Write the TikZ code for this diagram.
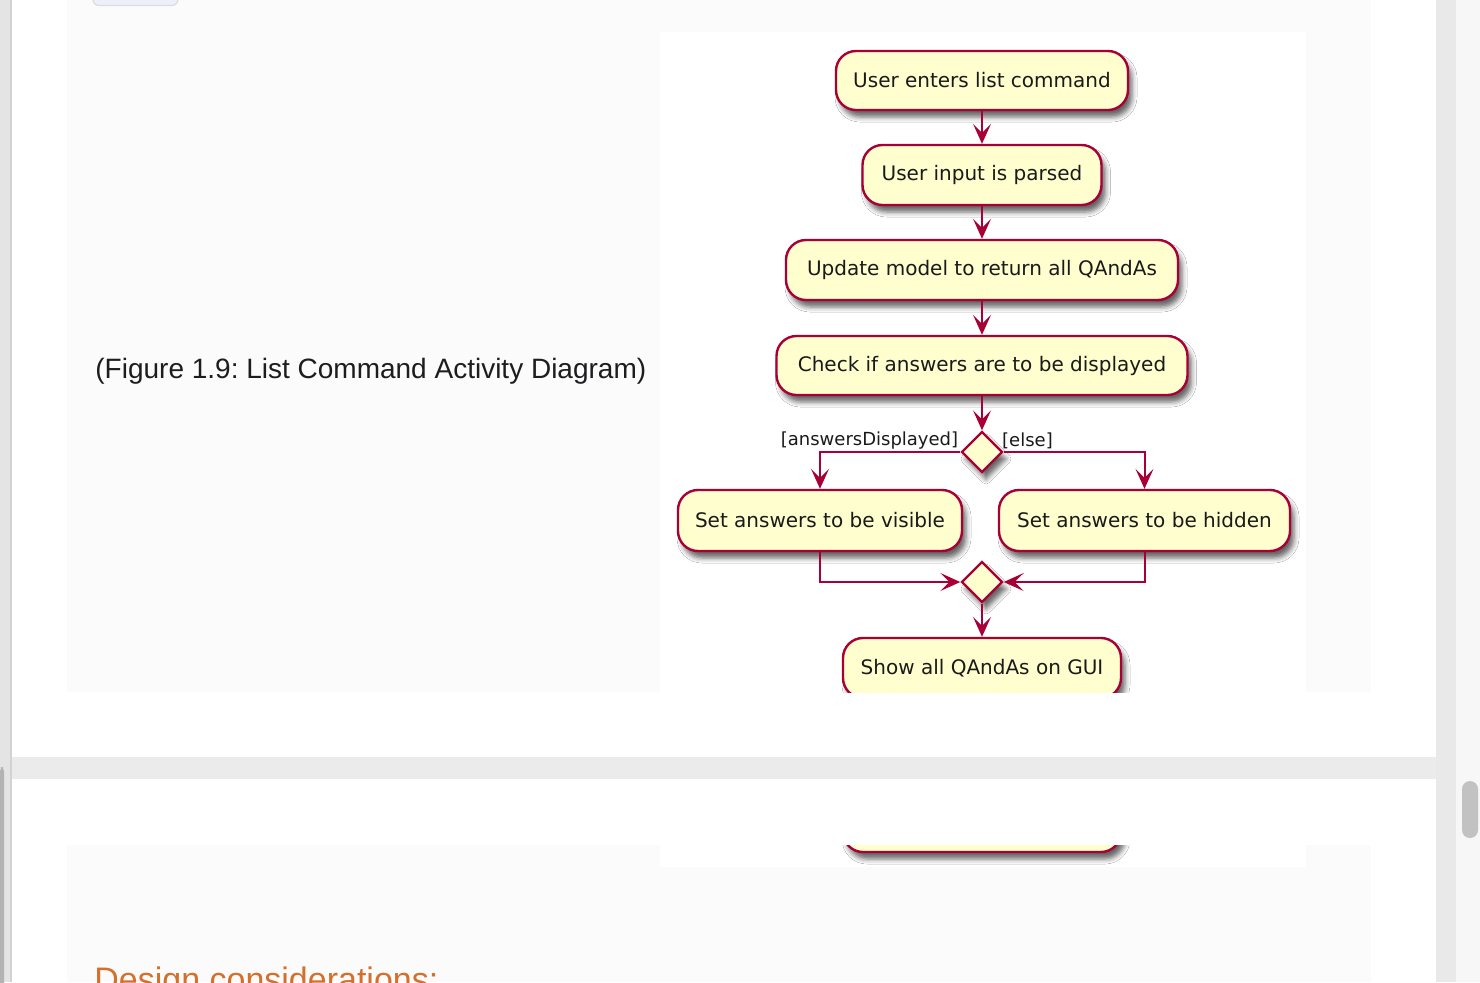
\documentclass[tikz,border=0pt]{standalone}
\usepackage{fontspec}
\setmainfont{Liberation Sans}
\newfontfamily\diagfont{DejaVu Sans}
\usetikzlibrary{shapes.geometric,arrows.meta,shadows.blur}
\frenchspacing

\definecolor{umlfill}{HTML}{FEFECE}
\definecolor{umlline}{HTML}{A80036}
\definecolor{umltext}{HTML}{1A1A1A}
\definecolor{pagebg}{HTML}{FFFFFF}
\definecolor{panelbg}{HTML}{FBFBFB}
\definecolor{gapbg}{HTML}{EBEBEB}
\definecolor{leftbg}{HTML}{E4E4E4}
\definecolor{leftline}{HTML}{D2D2D2}
\definecolor{leftbar}{HTML}{B3B3B3}
\definecolor{rightbg}{HTML}{E9E9E9}
\definecolor{trackbg}{HTML}{F7F7F7}
\definecolor{thumb}{HTML}{C2C2C2}
\definecolor{tabfill}{HTML}{EFEEFB}
\definecolor{tabline}{HTML}{DCDCE4}
\definecolor{captiontext}{HTML}{1D1D1F}
\definecolor{headingtext}{HTML}{D4702C}

\begin{document}
\begin{tikzpicture}[x=0.5pt, y=-0.5pt,
  act/.style={rectangle, rounded corners=10pt, draw=umlline, fill=umlfill,
    line width=1.2pt, inner sep=0pt, text=umltext,
    font=\diagfont\fontsize{10pt}{12pt}\selectfont,
    blur shadow={shadow xshift=2pt, shadow yshift=-3.5pt,
      shadow blur radius=2.5pt, shadow opacity=60}},
  branch/.style={diamond, draw=umlline, fill=umlfill, line width=1.2pt,
    inner sep=0pt, minimum width=20.5pt, minimum height=20.5pt,
    blur shadow={shadow xshift=2pt, shadow yshift=-3.5pt,
      shadow blur radius=2.5pt, shadow opacity=60}},
  guard/.style={inner sep=0pt, text=umltext,
    font=\diagfont\fontsize{9pt}{11pt}\selectfont},
  flow/.style={draw=umlline, line width=1pt,
    -{Stealth[length=10pt, width=9pt, inset=4.5pt]}},
]
\useasboundingbox (0,0) rectangle (1480,982);
\clip (0,0) rectangle (1480,982);

% page chrome
\fill[pagebg] (0,0) rectangle (1480,982);
\fill[leftbg] (0,0) rectangle (10,982);
\fill[leftline] (10,0) rectangle (12,982);
\fill[leftbar, rounded corners=2pt] (0,767) rectangle (4,1000);
\fill[rightbg] (1436,0) rectangle (1456,982);
\fill[trackbg] (1456,0) rectangle (1480,982);
\fill[thumb, rounded corners=4pt] (1462,781) rectangle (1478,838);
\fill[gapbg] (12,757) rectangle (1436,779);

% upper content card
\fill[panelbg] (67,0) rectangle (1371,692);
\fill[pagebg] (660,32) rectangle (1306,692);
\draw[fill=tabfill, draw=tabline, line width=0.6pt, rounded corners=3pt]
  (93,-10) rectangle (178,5.5);

\node[anchor=west, inner sep=0pt, text=captiontext,
  font=\fontsize{14pt}{17pt}\selectfont] (caption) at (95,371)
  {(Figure 1.9: List Command Activity Diagram)};

% activity diagram
\begin{scope}
\clip (660,32) rectangle (1306,692);
\node[act, minimum width=146pt, minimum height=29.5pt] (n1) at (982,80.5)
  {User enters list command};
\node[act, minimum width=119.5pt, minimum height=30pt] (n2) at (982,175)
  {User input is parsed};
\node[act, minimum width=196pt, minimum height=30pt] (n3) at (982,270)
  {Update model to return all QAndAs};
\node[act, minimum width=205.5pt, minimum height=29.5pt] (n4) at (982,365.5)
  {Check if answers are to be displayed};
\node[branch] (d1) at (982,452) {};
\node[act, minimum width=142pt, minimum height=30.5pt] (n5) at (820,520.5)
  {Set answers to be visible};
\node[act, minimum width=145.5pt, minimum height=30.5pt] (n6) at (1144.5,520.5)
  {Set answers to be hidden};
\node[branch] (d2) at (982,582) {};
\node[act, minimum width=139pt, minimum height=30pt] (n7) at (982,668)
  {Show all QAndAs on GUI};

\node[guard] (g1) at (869.5,441) {[answersDisplayed]};
\node[guard] (g2) at (1027.5,441) {[else]};

\draw[flow] (n1) -- (n2);
\draw[flow] (n2) -- (n3);
\draw[flow] (n3) -- (n4);
\draw[flow] (n4) -- (d1);
\draw[flow] (d1.west) -| (n5.north);
\draw[flow] (d1.east) -| (n6.north);
\draw[flow] (n5.south) |- (d2.west);
\draw[flow] (n6.south) |- (d2.east);
\draw[flow] (d2) -- (n7);
\end{scope}

% lower content card
\fill[panelbg] (67,845) rectangle (1371,982);
\fill[pagebg] (660,845) rectangle (1306,867);
\begin{scope}
\clip (660,845) rectangle (1306,867);
\node[act, minimum width=139pt, minimum height=30pt] (n7tail) at (982,822) {};
\end{scope}

\node[anchor=base west, inner sep=0pt, text=headingtext,
  font=\fontsize{17pt}{20pt}\selectfont] (heading) at (94,991)
  {Design considerations:};
\end{tikzpicture}
\end{document}
